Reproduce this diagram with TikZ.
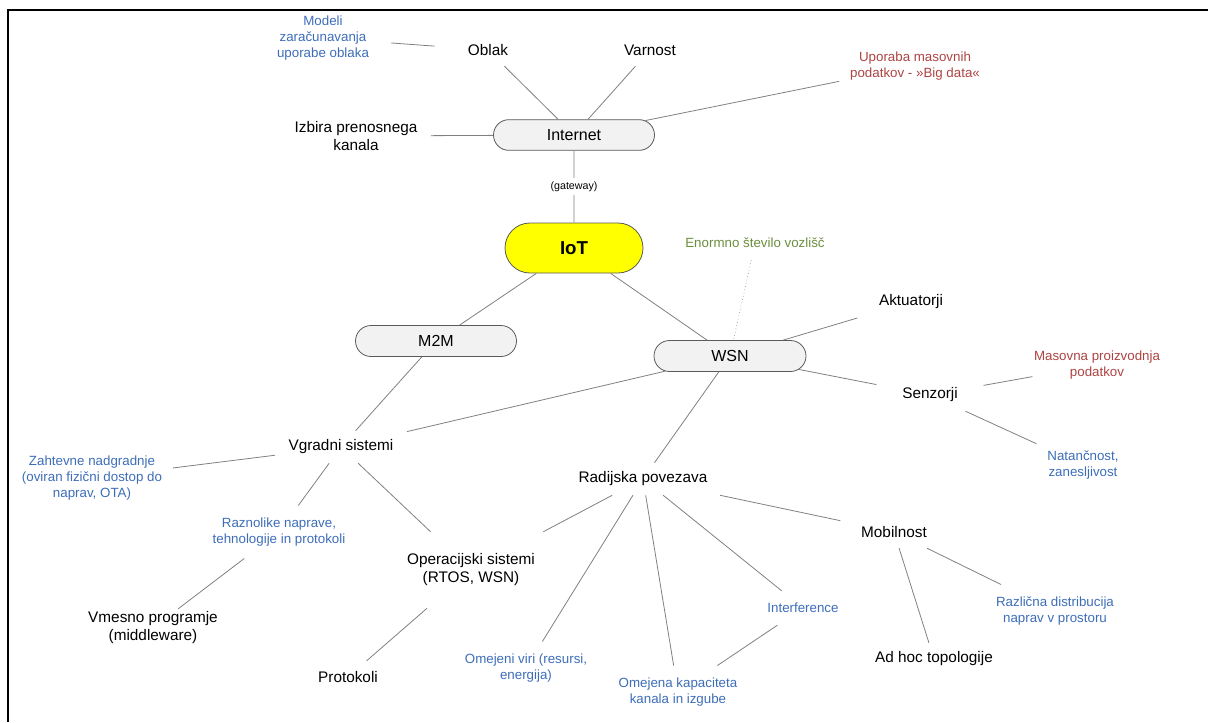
\documentclass[tikz,border=0pt]{standalone}
\usepackage{fontspec}
\setmainfont{Liberation Sans}
\usepackage{tikz}
\usetikzlibrary{shapes.misc}
\definecolor{linegrey}{HTML}{808080}
\definecolor{edgegrey}{HTML}{5A5A5A}
\definecolor{pillgrey}{HTML}{F2F2F2}
\definecolor{iotyellow}{HTML}{FFFF00}
\definecolor{noteblue}{HTML}{3D6DB8}
\definecolor{notered}{HTML}{AD4343}
\definecolor{notegreen}{HTML}{6B8E3D}
\tikzset{
  pill/.style={rounded rectangle, draw=edgegrey, line width=0.6pt, fill=pillgrey,
    minimum width=120.75pt, minimum height=23pt, inner sep=0pt, font=\fontsize{12}{14}\selectfont},
  core/.style={pill, fill=iotyellow, minimum width=103.5pt, minimum height=37.5pt,
    font=\fontsize{14}{17}\selectfont\bfseries},
  topic/.style={align=center, inner xsep=10pt, inner ysep=2pt, minimum width=80pt,
    minimum height=24pt, font=\fontsize{11.5}{13.5}\selectfont},
  note/.style={align=center, inner xsep=8pt, inner ysep=9pt, text=noteblue,
    font=\fontsize{10}{12}\selectfont},
  noteRed/.style={note, text=notered},
  noteGreen/.style={note, text=notegreen},
  gate/.style={fill=white, inner xsep=1pt, inner ysep=2.5pt, font=\fontsize{8}{9.5}\selectfont},
  link/.style={draw=linegrey, line width=0.6pt},
  linkd/.style={draw=linegrey!85, line width=0.5pt, dotted},
}

\begin{document}
\begin{tikzpicture}[x=0.75pt, y=-0.75pt]
\useasboundingbox (0,0) rectangle (1208,722);
\draw[line width=1.5pt] (8,722) -- (8,10) -- (1208,10);

\node[pill] (internet) at (574,135) {Internet};
\node[core] (iot) at (574,248) {IoT};
\node[pill, minimum height=23.25pt] (m2m) at (436,341) {M2M};
\node[pill, minimum width=114pt, minimum height=23.25pt] (wsn) at (730,356) {WSN};

\node[topic] (oblak) at (488,50) {Oblak};
\node[topic] (varnost) at (650,50) {Varnost};
\node[note, minimum width=102pt] (modeli) at (323,38) {Modeli\\zaračunavanja\\uporabe oblaka};
\node[topic] (izbira) at (356,136) {Izbira prenosnega\\kanala};
\node[noteRed] (bigdata) at (915,66) {Uporaba masovnih\\podatkov - »Big data«};

\node[noteGreen] (enormno) at (755,243) {Enormno število vozlišč};
\node[topic] (akt) at (911,302) {Aktuatorji};
\node[topic] (senz) at (930,395) {Senzorji};
\node[noteRed, inner xsep=1pt] (masovna) at (1097,365) {Masovna proizvodnja\\podatkov};
\node[note] (natan) at (1083,465) {Natančnost,\\zanesljivost};

\node[topic] (vgradni) at (341,447) {Vgradni sistemi};
\node[note] (zahtevne) at (92,478) {Zahtevne nadgradnje\\(oviran fizični dostop do\\naprav, OTA)};
\node[note] (raznolike) at (279,532) {Raznolike naprave,\\tehnologije in protokoli};
\node[topic] (vmesno) at (153,628) {Vmesno programje\\(middleware)};
\node[topic, minimum height=57pt] (os) at (471,570) {Operacijski sistemi\\(RTOS, WSN)};
\node[topic] (protokoli) at (348,677) {Protokoli};

\node[topic] (radio) at (643,479) {Radijska povezava};
\node[note] (viri) at (526,668) {Omejeni viri (resursi,\\energija)};
\node[note] (kapac) at (678,692) {Omejena kapaciteta\\kanala in izgube};
\node[note] (interf) at (803,608) {Interference};
\node[topic] (mobil) at (894,532) {Mobilnost};
\node[note] (razlicna) at (1055,611) {Različna distribucija\\naprav v prostoru};
\node[topic] (adhoc) at (934,659) {Ad hoc topologije};

\draw[link] (modeli) -- (oblak);
\draw[link] (oblak) -- (internet);
\draw[link] (varnost) -- (internet);
\draw[link] (izbira) -- (internet);
\draw[link] (internet) -- (bigdata);
\draw[link] (internet) -- node[gate]{(gateway)} (iot);
\draw[link] (iot) -- (m2m);
\draw[link] (iot) -- (wsn);
\draw[linkd] (enormno) -- (wsn);
\draw[link] (wsn) -- (akt);
\draw[link] (wsn) -- (senz);
\draw[link] (senz) -- (masovna);
\draw[link] (senz) -- (natan);
\draw[link] (wsn) -- (vgradni);
\draw[link] (m2m) -- (vgradni);
\draw[link] (vgradni) -- (zahtevne);
\draw[link] (vgradni) -- (raznolike);
\draw[link] (raznolike) -- (vmesno);
\draw[link] (vgradni) -- (os);
\draw[link] (os) -- (protokoli);
\draw[link] (wsn) -- (radio);
\draw[link] (radio) -- (os);
\draw[link] (radio) -- (viri);
\draw[link] (radio) -- (kapac);
\draw[link] (radio) -- (interf);
\draw[link] (interf) -- (kapac);
\draw[link] (radio) -- (mobil);
\draw[link] (mobil) -- (adhoc);
\draw[link] (mobil) -- (razlicna);
\end{tikzpicture}
\end{document}
